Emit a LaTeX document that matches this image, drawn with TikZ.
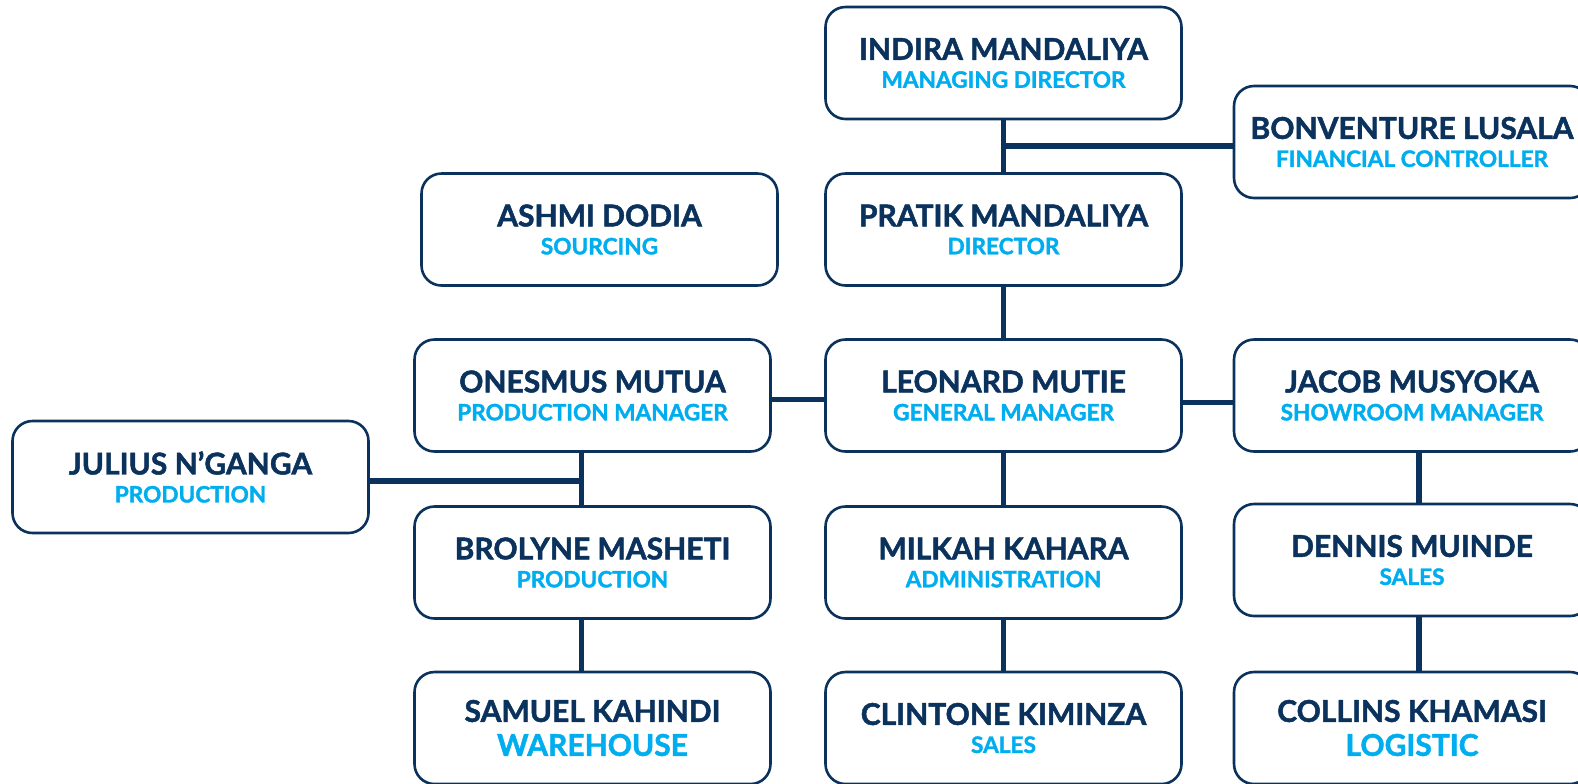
\documentclass[tikz,border=0pt]{standalone}
\usepackage{fontspec}
\setmainfont{Lato}[BoldFeatures={FakeBold=1.6}]
\usepackage{xcolor}
\definecolor{chartnavy}{RGB}{10, 50, 92}
\definecolor{rolecyan}{RGB}{0, 174, 239}

\begin{document}
\begin{tikzpicture}[
    x=0.5pt, y=-0.5pt,
    staff/.style={rectangle, rounded corners=10pt, draw=chartnavy, line width=1.3pt, minimum width=178pt, minimum height=56pt, fill=white, align=center, inner sep=0pt, text=rolecyan, font=\bfseries\fontsize{11.3}{14}\selectfont},
    link/.style={draw=chartnavy, line width=2.6pt}
  ]
  \useasboundingbox (0,0) rectangle (1578,783);
  \clip (0,0) rectangle (1578,783);

  % Directors
  \node[staff] (indira) at (1003.5, 63) {\textcolor{chartnavy}{\fontsize{15}{17}\selectfont INDIRA MANDALIYA}\\MANAGING DIRECTOR};
  \node[staff] (bonventure) at (1412, 142) {\textcolor{chartnavy}{\fontsize{15}{17}\selectfont BONVENTURE LUSALA}\\FINANCIAL CONTROLLER};
  \node[staff] (ashmi) at (599.5, 229.5) {\textcolor{chartnavy}{\fontsize{15}{17}\selectfont ASHMI DODIA}\\SOURCING};
  \node[staff] (pratik) at (1003.5, 229.5) {\textcolor{chartnavy}{\fontsize{15}{17}\selectfont PRATIK MANDALIYA}\\DIRECTOR};

  % Managers
  \node[staff] (onesmus) at (592.5, 395.5) {\textcolor{chartnavy}{\fontsize{15}{17}\selectfont ONESMUS MUTUA}\\PRODUCTION MANAGER};
  \node[staff] (leonard) at (1003.5, 395.5) {\textcolor{chartnavy}{\fontsize{15}{17}\selectfont LEONARD MUTIE}\\GENERAL MANAGER};
  \node[staff] (jacob) at (1412, 395.5) {\textcolor{chartnavy}{\fontsize{15}{17}\selectfont JACOB MUSYOKA}\\SHOWROOM MANAGER};

  % Staff
  \node[staff] (julius) at (190.5, 477) {\textcolor{chartnavy}{\fontsize{15}{17}\selectfont JULIUS N’GANGA}\\PRODUCTION};
  \node[staff] (brolyne) at (592.5, 562.5) {\textcolor{chartnavy}{\fontsize{15}{17}\selectfont BROLYNE MASHETI}\\PRODUCTION};
  \node[staff] (milkah) at (1003.5, 562.5) {\textcolor{chartnavy}{\fontsize{15}{17}\selectfont MILKAH KAHARA}\\ADMINISTRATION};
  \node[staff] (dennis) at (1412, 560) {\textcolor{chartnavy}{\fontsize{15}{17}\selectfont DENNIS MUINDE}\\SALES};
  \node[staff] (samuel) at (592.5, 728) {\textcolor{chartnavy}{\fontsize{15}{17}\selectfont SAMUEL KAHINDI}\\[3pt]{\fontsize{15}{17}\selectfont WAREHOUSE}};
  \node[staff] (clintone) at (1003.5, 728) {\textcolor{chartnavy}{\fontsize{15}{17}\selectfont CLINTONE KIMINZA}\\SALES};
  \node[staff] (collins) at (1412, 728) {\textcolor{chartnavy}{\fontsize{15}{17}\selectfont COLLINS KHAMASI}\\[3pt]{\fontsize{15}{17}\selectfont LOGISTIC}};

  % Reporting lines
  \coordinate (prodline) at ([xshift=-5.5pt]onesmus.south);
  \coordinate (showline) at ([xshift=3.5pt]jacob.south);
  \draw[link] (indira) -- (pratik);
  \draw[link] ([yshift=-2pt]bonventure.west) -- ([yshift=-2pt]bonventure.west -| indira.south);
  \draw[link] (pratik) -- (leonard);
  \draw[link] ([yshift=-2pt]onesmus.east) -- ([yshift=-2pt]leonard.west);
  \draw[link] ([yshift=-3.5pt]leonard.east) -- ([yshift=-3.5pt]jacob.west);
  \draw[link] (leonard) -- (milkah);
  \draw[link] (milkah) -- (clintone);
  \draw[link] (prodline) -- (prodline |- brolyne.north);
  \draw[link] ([yshift=-2pt]julius.east) -- ([yshift=-2pt]julius.east -| prodline);
  \draw[link] (prodline |- brolyne.south) -- (prodline |- samuel.north);
  \draw[link] (showline) -- (showline |- dennis.north);
  \draw[link] (showline |- dennis.south) -- (showline |- collins.north);
\end{tikzpicture}
\end{document}
